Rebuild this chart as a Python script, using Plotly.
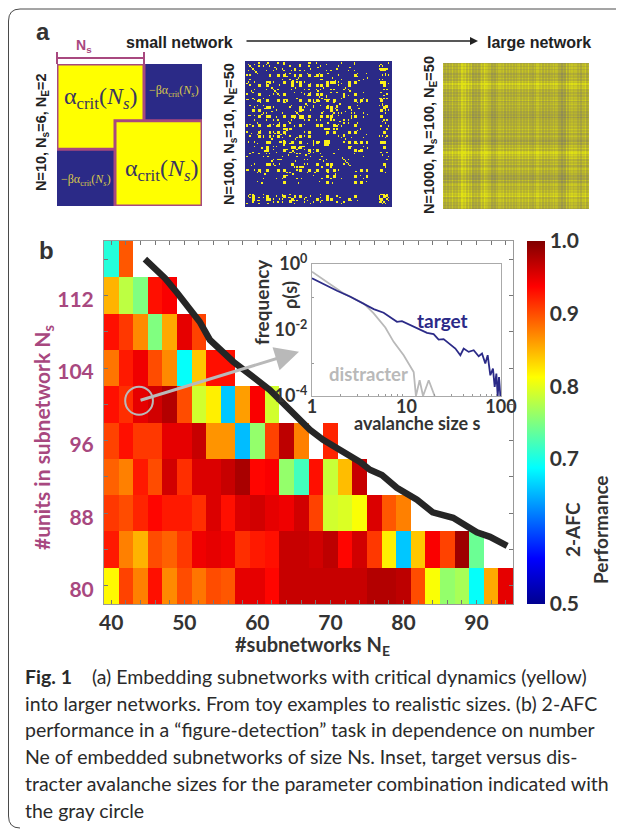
import plotly.graph_objects as go

# The page body keeps a margin of 8 px, so the figure is 616 x 821 and positions are shifted by it.
W, H = 616, 821
OFF = 8
def fx(p): return (p - OFF) / W
def fy(p): return 1 - (p - OFF) / H

# ---------- panel b data ----------
subnetworks = list(range(40, 96, 2))
units = [80, 84, 88, 92, 96, 100, 104, 108, 112, 116]
row_116 = [.705, .895]
row_112 = [.85, .78, .75, .93, .94]
row_108 = [.93, .91, .87, .75, .855, .95, .905]
row_104 = [.88, .925, .945, .90, .87, .69, .84, .93, .93]
row_100 = [.93, .915, .95, .96, .975, .90, .79, .82, .66, .86, .94, .79]
row_96 = [.905, .93, .91, .91, .95, .95, .965, .865, .865, .655, .76, .905, .97, .875, None, .92]
row_92 = [.89, .875, .925, .90, .96, .915, .955, .955, .965, .98, .935, .94, .76, .72, .93, .785, .845, .965]
row_88 = [.91, .90, .92, .935, .925, .925, .915, .955, .93, .955, .96, .95, .945, .96, .905, .79, .795, .81, .955, .895, .875]
row_84 = [.925, .875, .85, .90, .89, .91, .945, .95, .945, .915, .925, .93, .965, .965, .96, .97, .935, .96, .91, .82, .66, .84, .94, .905, .985, .74]
row_80 = [.815, .905, .875, .93, .87, .90, .88, .90, .895, .95, .95, .935, .965, .965, .965, .965, .965, .965, .975, .975, .97, .90, .81, .76, .77, .69, .855, .95]
rows = [row_80, row_84, row_88, row_92, row_96, row_100, row_104, row_108, row_112, row_116]

boundary_ne = [44.6, 47.35, 49.0, 52.1, 53.5, 56.7, 61.7, 66.2, 67.2, 69.0, 71.3, 74.05, 75.4, 77.05, 79.1, 81.85, 84.0, 86.8, 90.05, 91.85, 94.2]
boundary_ns = [116.0, 113.9, 112.3, 109.1, 107.1, 104.7, 101.6, 98.1, 97.2, 96.1, 95.0, 93.65, 92.8, 92.2, 90.8, 89.5, 88.1, 87.5, 85.9, 85.4, 84.4]

x_tick_labels = {40: "40", 50: "50", 60: "60", 70: "70", 80: "80", 90: "90"}
y_tick_labels = {80: "80", 88: "88", 96: "96", 104: "104", 112: "112"}
cbar_ticks = [0.5, 0.7, 0.8, 0.9, 1.0]
cbar_labels = ["0.5", "0.7", "0.8", "0.9", "1.0"]

# ---------- inset data (log10 values) ----------
target_log_s = [0, .123, .265, .406, .547, .653, .758, .829, .899, .952, 1.005, 1.111, 1.217, 1.287, 1.340, 1.393, 1.464, 1.517, 1.570, 1.605, 1.658, 1.711, 1.764, 1.799, 1.834, 1.859, 1.887, 1.915, 1.933, 1.951, 1.965, 1.979, 1.993]
target_log_p = [-.435, -.618, -.810, -.992, -1.195, -1.367, -1.478, -1.620, -1.752, -1.732, -1.803, -1.924, -2.086, -2.127, -2.289, -2.278, -2.430, -2.562, -2.765, -2.562, -2.663, -2.613, -2.795, -2.714, -3.018, -2.765, -3.372, -3.170, -3.727, -3.322, -4, -3.423, -4]
distr_log_s = [0, .159, .335, .547, .653, .776, .864, .970, 1.051, 1.076, 1.100, 1.139, 1.175, 1.235, 1.298]
distr_log_p = [-.233, -.537, -.891, -1.195, -1.499, -1.924, -2.359, -2.765, -3.170, -3.271, -4, -3.524, -4, -3.524, -4]

# ---------- panel a data ----------
toy_size = 10
toy_groups = [list(range(0, 6)), list(range(4, 10))]

mid_size = 100
mid_groups = [
    [2, 6, 14, 26, 37, 55, 74, 92], [3, 9, 16, 37, 43, 51, 63], [6, 14, 19, 31, 40, 58, 70, 94],
    [1, 9, 22, 26, 43, 48, 74], [14, 15, 16, 31, 37, 38, 55], [19, 22, 40, 51, 67, 96],
    [26, 27, 28, 46, 60, 78], [33, 37, 38, 39, 58, 72], [12, 25, 35, 52, 65, 80],
    [5, 21, 33, 44, 62, 92], [8, 30, 42, 56, 76, 95], [16, 23, 48, 55, 70, 94],
    [54, 55, 56, 57, 26, 46], [60, 63, 14, 35, 74], [74, 78, 82, 26, 55], [67, 70, 42, 23],
    [3, 12, 30, 51, 91, 93], [91, 92, 94, 96, 5, 25], [93, 95, 97, 9, 33], [40, 43, 48, 19, 60],
    [1, 15, 44, 65, 97], [21, 38, 58, 80], [30, 31, 46, 62, 96], [35, 52, 72, 95], [8, 27, 50, 82],
    [24, 50, 55, 67], [10, 28, 47, 76], [18, 34, 53, 68], [29, 41, 64, 93], [11, 36, 59, 83],
    [4, 20, 49, 71], [13, 32, 61, 77],
]
mid_streaks = [[2, 3, 4, 5, 6, 7, 8], [18, 19, 20, 21, 22, 23], [34, 35, 36, 37, 38, 39, 40], [66, 67, 68, 69, 70, 71], [75, 78, 80, 82], [14, 26, 37, 55, 54, 56]]
mid_hubs = [14, 26, 37, 55, 74, 82, 92, 48, 58, 16, 31, 43, 51, 60, 70, 94, 5, 9, 22, 33, 65, 78]
mid_blank = [84, 85, 86, 87, 88, 89, 90]

large_col_levels = [.45, .5, .45, .55, .5, .6, .85, .9, .75, .55, .4, .4, .35, .7, .95, .6, .4, .35, .45, .5, .65, .55, .45, .6, .5, .45, .55, .65, .5, .6, .45, .5, .6, .65, .55, .45, .55, .6, .5, .45, .3, .25, .55, .7, .6, .5, .55, .5, .6, .55]
large_row_levels = [.55, .5, .6, .45, .55, .6, .7, .85, .75, .6, .5, .55, .6, .5, .55, .6, .5, .35, .3, .4, .55, .6, .65, .55, .5, .55, .35, .5, .6, .7, .9, .85, .8, .6, .55, .5, .6, .55, .4, .3, .5, .6, .55, .65, .8, .85, .7, .6, .55, .5]
large_col_weave = [.08, -.06, .03, -.1, .06, -.02, .1, -.08, .02, -.05, .06, -.03, .08]
large_row_weave = [-.08, .06, -.02, .1, -.08, .03, .08, -.05, .02, -.06, .05]

# ---------- styles ----------
NAVY = "#2b2a87"
PURPLE = "#a8487f"
DARK = "#333333"
GREY = "#b9b9b9"
BOLD = "Lato"
SANS = "Liberation Sans"
JET = [[0, "#00008f"], [.125, "#0000ff"], [.375, "#00ffff"], [.625, "#ffff00"], [.875, "#ff0000"], [1, "#800000"]]

fig = go.Figure()

# panel b heatmap
z = [r + [None] * (len(subnetworks) - len(r)) for r in rows]
fig.add_trace(go.Heatmap(
    x=subnetworks, y=units, z=z, colorscale=JET, zmin=.5, zmax=1, hoverongaps=False,
    colorbar=dict(x=fx(527), xanchor="left", thickness=18, thicknessmode="pixels",
                  len=363 / H, lenmode="fraction", y=fy(604), yanchor="bottom", ypad=0, xpad=0,
                  outlinewidth=0, tickvals=cbar_ticks, ticktext=cbar_labels, ticks="",
                  tickfont=dict(family=BOLD, size=21, color=DARK, weight="bold")),
    xaxis="x", yaxis="y"))
fig.add_trace(go.Scatter(x=boundary_ne, y=boundary_ns, mode="lines",
                         line=dict(color="#262626", width=6.5), xaxis="x", yaxis="y", showlegend=False))

# inset
fig.add_trace(go.Scatter(x=[10 ** v for v in distr_log_s], y=[10 ** v for v in distr_log_p], mode="lines",
                         line=dict(color=GREY, width=1.8), xaxis="x2", yaxis="y2", showlegend=False))
fig.add_trace(go.Scatter(x=[10 ** v for v in target_log_s], y=[10 ** v for v in target_log_p], mode="lines",
                         line=dict(color=NAVY, width=1.8), xaxis="x2", yaxis="y2", showlegend=False))

# panel a matrices
toy = [[1 if any(i in g and j in g for g in toy_groups) else 0 for j in range(toy_size)] for i in range(toy_size)]
fig.add_trace(go.Heatmap(z=toy, colorscale=[[0, NAVY], [1, "#ffff00"]], zmin=0, zmax=1, showscale=False, xaxis="x3", yaxis="y3"))

mid = [[0] * mid_size for _ in range(mid_size)]
for g in mid_groups:
    for a in g:
        for b in g:
            if a != b:
                mid[a][b] = mid[b][a] = 1
                if a in mid_hubs and b in mid_hubs:
                    mid[a + 1][b] = mid[a][b + 1] = mid[a + 1][b + 1] = 1
for s in mid_streaks:
    for a in s:
        mid[a][a] = 1
for a in mid_blank:
    for b in range(mid_size):
        mid[a][b] = 0
        mid[b][a] = 0
fig.add_trace(go.Heatmap(z=mid, colorscale=[[0, NAVY], [1, "#fbf01a"]], zmin=0, zmax=.85, showscale=False,
                         xaxis="x4", yaxis="y4"))

large = [[(large_row_levels[i // 2] + large_col_levels[j // 2]) / 2 + large_row_weave[i % 11] + large_col_weave[j % 13]
          for j in range(100)] for i in range(100)]
fig.add_trace(go.Heatmap(z=large, colorscale=[[0, "#8e8a55"], [.5, "#b5b12f"], [1, "#e2e312"]], zmin=.2, zmax=.9,
                         showscale=False, xaxis="x5", yaxis="y5"))

layout_axes = dict(
    xaxis=dict(domain=[fx(104), fx(513)], range=[39, 95], tickmode="array", tickvals=subnetworks,
               ticktext=[x_tick_labels.get(v, "") for v in subnetworks], ticks="inside", ticklen=4, tickcolor="#777",
               showline=True, linecolor="#999", linewidth=1, mirror="ticks", showgrid=False, zeroline=False,
               tickfont=dict(family=BOLD, size=21, color=DARK, weight="bold"), anchor="y"),
    yaxis=dict(domain=[fy(604), fy(241)], range=[78, 118], tickmode="array", tickvals=units,
               ticktext=[y_tick_labels.get(v, "") for v in units], ticks="inside", ticklen=4, tickcolor="#777",
               showline=True, linecolor="#999", linewidth=1, mirror="ticks", showgrid=False, zeroline=False,
               tickfont=dict(family=BOLD, size=21, color=PURPLE, weight="bold"), anchor="x", ticklabelstandoff=5, ticklabelshift=4),
    xaxis2=dict(domain=[fx(312), fx(501)], type="log", range=[0, 2], tickmode="array", tickvals=[1, 10, 100],
                ticktext=["1", "10", "100"], ticks="", showline=True, linecolor="#aaa", linewidth=1, mirror=True,
                showgrid=False, zeroline=False, anchor="y2", tickfont=dict(family=BOLD, size=18, color=DARK, weight="bold"),
                ticklabelstandoff=-6,
                minor=dict(ticks="inside", ticklen=2, tickcolor="#999", tickvals=[2, 3, 4, 5, 6, 7, 8, 9, 20, 30, 40, 50, 60, 70, 80, 90], showgrid=False)),
    yaxis2=dict(domain=[fy(396), fy(264)], type="log", range=[-4, 0], tickmode="array", tickvals=[1, .01, .0001],
                ticktext=["10<sup>0</sup>", "10<sup>-2</sup>", "10<sup>-4</sup>"], ticks="", showline=True, linecolor="#aaa",
                linewidth=1, mirror=True, showgrid=False, zeroline=False, anchor="x2",
                tickfont=dict(family=BOLD, size=18, color=DARK, weight="bold"),
                minor=dict(ticks="inside", ticklen=2, tickcolor="#999", tickvals=[.1, .001], showgrid=False)),
    xaxis3=dict(domain=[fx(57), fx(202)], range=[-.5, 9.5], visible=False, anchor="y3"),
    yaxis3=dict(domain=[fy(206), fy(64)], range=[9.5, -.5], visible=False, anchor="x3"),
    xaxis4=dict(domain=[fx(245), fx(392)], range=[-.5, 99.5], visible=False, anchor="y4"),
    yaxis4=dict(domain=[fy(207), fy(61)], range=[99.5, -.5], visible=False, anchor="x4"),
    xaxis5=dict(domain=[fx(443), fx(589)], range=[-.5, 99.5], visible=False, anchor="y5"),
    yaxis5=dict(domain=[fy(209), fy(63)], range=[99.5, -.5], visible=False, anchor="x5"),
)

shapes = [
    # card outline
    dict(type="path", xref="paper", yref="paper", line=dict(color="#4a4a4a", width=1),
         path=f"M 1.0,{fy(9)} L {fx(20)},{fy(9)} Q {fx(8.5)},{fy(9)} {fx(8.5)},{fy(21)} L {fx(8.5)},{fy(816)} Q {fx(8.5)},{fy(828)} {fx(20)},{fy(828)}"),
    # Ns bracket
    dict(type="path", xref="paper", yref="paper", line=dict(color=PURPLE, width=2),
         path=f"M {fx(57)},{fy(52)} L {fx(57)},{fy(64)} M {fx(144)},{fy(52)} L {fx(144)},{fy(64)} M {fx(57)},{fy(58)} L {fx(144)},{fy(58)}"),
    # toy blocks
    dict(type="rect", xref="x3", yref="y3", x0=-.5, x1=5.5, y0=-.5, y1=5.5, line=dict(color=PURPLE, width=3)),
    dict(type="rect", xref="x3", yref="y3", x0=3.5, x1=9.5, y0=3.5, y1=9.5, line=dict(color=PURPLE, width=3), fillcolor="#ffff00"),
    # grey circle
    dict(type="circle", xref="x", yref="y", x0=41.9, x1=45.7, y0=98.85, y1=101.95, line=dict(color=GREY, width=2)),
]

ann = []
def txt(x, y, text, size=14, color=DARK, family=BOLD, bold=True, angle=0, anchor="center"):
    ann.append(dict(xref="paper", yref="paper", x=fx(x), y=fy(y), text=text, showarrow=False, xanchor=anchor, yanchor="middle",
                    textangle=angle, font=dict(family=family, size=size, color=color, weight="bold" if bold else "normal")))

txt(43, 31, "a", 24, DARK, SANS)
txt(46, 250, "b", 24, DARK, SANS)
txt(179, 42, "small network", 16, "#222", SANS)
txt(539, 42, "large network", 16, "#222", SANS)
txt(84, 46, "N<sub>s</sub>", 14, PURPLE, SANS)
txt(42, 132, "N=10, N<sub>s</sub>=6, N<sub>E</sub>=2", 14.5, "#222", SANS, angle=-90)
txt(230, 134, "N=100, N<sub>s</sub>=10, N<sub>E</sub>=50", 14.5, "#222", SANS, angle=-90)
txt(430, 135, "N=1000, N<sub>s</sub>=100, N<sub>E</sub>=50", 14.5, "#222", SANS, angle=-90)
ALPHA = "α<sub>crit</sub>(<i>N<sub>s</sub></i>)"
txt(101, 98, ALPHA, 24, "#3a3560", "Liberation Serif", False)
txt(162, 170, ALPHA, 24, "#3a3560", "Liberation Serif", False)
BETA = "−βα<sub>crit</sub>(<i>N<sub>s</sub></i>)"
txt(174, 91, BETA, 12, "#d8c84a", "Liberation Serif", False)
txt(86, 180, BETA, 12, "#d8c84a", "Liberation Serif", False)

txt(43, 438, "#units in subnetwork N<sub>s</sub>", 21, PURPLE, BOLD, angle=-90)
txt(312, 645, "#subnetworks N<sub>E</sub>", 20, DARK, BOLD)
txt(572, 530, "2-AFC", 19, DARK, BOLD, angle=-90)
txt(600, 530, "Performance", 19, DARK, BOLD, angle=-90)
txt(261, 302, "frequency", 19, DARK, BOLD, angle=-90)
txt(290, 295, "ρ(s)", 18, DARK, BOLD, angle=-90)
txt(417, 423, "avalanche size s", 18, DARK, BOLD)
txt(442, 320, "target", 19, NAVY, BOLD)
txt(368, 374, "distracter", 18.5, GREY, BOLD)

# caption
CAP = "Lato"
caption = [
    "<b>Fig. 1</b>\u00a0\u00a0\u00a0\u00a0(a) Embedding subnetworks with critical dynamics (yellow)",
    "into larger networks. From toy examples to realistic sizes. (b) 2-AFC",
    "performance in a “figure-detection” task in dependence on number",
    "Ne of embedded subnetworks of size Ns. Inset, target versus dis-",
    "tracter avalanche sizes for the parameter combination indicated with",
    "the gray circle",
]
caption_y = [676, 703, 729, 756, 783, 810]
for line, y in zip(caption, caption_y):
    txt(23, y, line, 19.5, "#2a2a2a", CAP, False, anchor="left")

# arrows
ann.append(dict(xref="paper", yref="paper", axref="pixel", ayref="pixel", x=fx(478), y=fy(41), ax=-233, ay=0, text="",
                showarrow=True, arrowhead=2, arrowsize=1, arrowwidth=1.6, arrowcolor="#222"))
ann.append(dict(xref="x", yref="y", axref="x", ayref="y", x=65.7, y=105.8, ax=43.8, ay=100.4, text="",
                showarrow=True, arrowhead=2, arrowsize=1.6, arrowwidth=3, arrowcolor=GREY))

fig.update_layout(width=W, height=H, autosize=False, margin=dict(l=0, r=0, t=0, b=0, pad=0, autoexpand=False),
                  paper_bgcolor="white", plot_bgcolor="white",
                  showlegend=False, shapes=shapes, annotations=ann, **layout_axes)
fig.write_html("out.html")
